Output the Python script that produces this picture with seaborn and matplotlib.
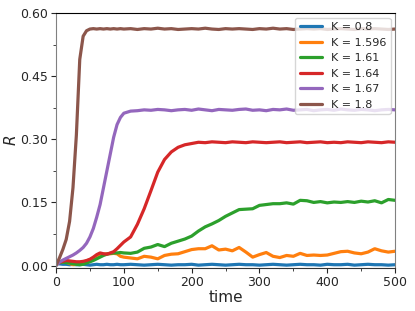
import pandas as pd
import numpy as np
import matplotlib.pyplot as plt
import seaborn as sns
from matplotlib.ticker import MultipleLocator, FormatStrFormatter

sns.set_style("ticks")

time = [0, 5, 10, 15, 20, 25, 30, 35, 40, 45, 50, 55, 60, 65, 70, 75, 80, 85, 90, 95, 100,
        110, 120, 130, 140, 150, 160, 170, 180, 190, 200, 210, 220, 230, 240, 250, 260, 270, 280, 290, 300,
        310, 320, 330, 340, 350, 360, 370, 380, 390, 400, 410, 420, 430, 440, 450, 460, 470, 480, 490, 500]

r_08 = [0.005, 0.004, 0.003, 0.003, 0.002, 0.003, 0.002, 0.002, 0.003, 0.002, 0.001, 0.002, 0.003, 0.002, 0.002, 0.003, 0.002, 0.002, 0.003, 0.002, 0.002,
        0.003, 0.002, 0.001, 0.002, 0.003, 0.002, 0.001, 0.002, 0.002, 0.003, 0.001, 0.002, 0.003, 0.002, 0.001, 0.002, 0.003, 0.002, 0.002, 0.001,
        0.002, 0.003, 0.002, 0.001, 0.002, 0.003, 0.002, 0.002, 0.001, 0.003, 0.002, 0.002, 0.003, 0.001, 0.002, 0.003, 0.002, 0.002, 0.001, 0.002]

r_1596 = [0.005, 0.007, 0.009, 0.008, 0.005, 0.002, 0.003, 0.005, 0.008, 0.011, 0.014, 0.017, 0.020, 0.024, 0.027, 0.028, 0.028, 0.029, 0.028, 0.022, 0.020,
          0.018, 0.016, 0.022, 0.020, 0.016, 0.024, 0.027, 0.028, 0.033, 0.038, 0.040, 0.040, 0.047, 0.037, 0.039, 0.035, 0.043, 0.032, 0.020, 0.026,
          0.031, 0.022, 0.019, 0.024, 0.022, 0.029, 0.024, 0.025, 0.024, 0.025, 0.029, 0.033, 0.034, 0.030, 0.028, 0.032, 0.040, 0.035, 0.032, 0.034]

r_161 = [0.005, 0.007, 0.008, 0.007, 0.006, 0.004, 0.003, 0.002, 0.003, 0.006, 0.009, 0.012, 0.016, 0.020, 0.024, 0.027, 0.029, 0.030, 0.030, 0.031, 0.030,
         0.029, 0.032, 0.041, 0.044, 0.050, 0.045, 0.053, 0.058, 0.063, 0.070, 0.082, 0.092, 0.099, 0.107, 0.117, 0.125, 0.133, 0.134, 0.135, 0.143,
         0.145, 0.147, 0.147, 0.149, 0.146, 0.155, 0.154, 0.150, 0.152, 0.149, 0.151, 0.150, 0.152, 0.150, 0.153, 0.151, 0.154, 0.149, 0.157, 0.155]

r_164 = [0.005, 0.008, 0.010, 0.012, 0.011, 0.010, 0.009, 0.009, 0.010, 0.012, 0.015, 0.020, 0.026, 0.030, 0.028, 0.027, 0.030, 0.033, 0.040, 0.048, 0.056,
         0.068, 0.098, 0.135, 0.178, 0.222, 0.252, 0.270, 0.281, 0.287, 0.290, 0.293, 0.292, 0.294, 0.293, 0.292, 0.294, 0.293, 0.292, 0.294, 0.293,
         0.292, 0.293, 0.294, 0.292, 0.293, 0.294, 0.292, 0.293, 0.294, 0.292, 0.293, 0.292, 0.294, 0.293, 0.292, 0.294, 0.293, 0.292, 0.294, 0.293]

r_167 = [0.0, 0.008, 0.013, 0.017, 0.021, 0.025, 0.030, 0.036, 0.043, 0.053, 0.068, 0.088, 0.115, 0.145, 0.185, 0.225, 0.265, 0.305, 0.335, 0.352, 0.362,
         0.367, 0.368, 0.370, 0.369, 0.371, 0.370, 0.368, 0.370, 0.371, 0.369, 0.372, 0.370, 0.368, 0.371, 0.370, 0.369, 0.371, 0.372, 0.369, 0.370,
         0.368, 0.371, 0.370, 0.372, 0.369, 0.370, 0.371, 0.368, 0.370, 0.371, 0.369, 0.372, 0.370, 0.369, 0.371, 0.370, 0.368, 0.370, 0.371, 0.370]

r_18 = [0.0, 0.018, 0.038, 0.062, 0.105, 0.185, 0.310, 0.490, 0.545, 0.558, 0.562, 0.563, 0.562, 0.563, 0.562, 0.563, 0.562, 0.563, 0.562, 0.563, 0.562,
        0.563, 0.561, 0.563, 0.562, 0.564, 0.562, 0.563, 0.561, 0.562, 0.563, 0.562, 0.564, 0.562, 0.561, 0.563, 0.562, 0.563, 0.562, 0.561, 0.563,
        0.562, 0.564, 0.562, 0.563, 0.561, 0.562, 0.563, 0.562, 0.563, 0.561, 0.562, 0.563, 0.562, 0.561, 0.563, 0.562, 0.563, 0.562, 0.561, 0.562]

labels = ["K = 0.8", "K = 1.596", "K = 1.61", "K = 1.64", "K = 1.67", "K = 1.8"]
series = [r_08, r_1596, r_161, r_164, r_167, r_18]

frames = []
for lab, vals in zip(labels, series):
    frames.append(pd.DataFrame({"time": time, "R": vals, "K": lab}))
df = pd.concat(frames, ignore_index=True)

fig = plt.figure(figsize=(4.15, 3.11), dpi=100)
ax = fig.add_axes([0.135, 0.138, 0.817, 0.82])
sns.lineplot(data=df, x="time", y="R", hue="K", palette="tab10", linewidth=2.3, ax=ax)

ax.set_xlim(0, 500)
ax.set_ylim(-0.006, 0.6)
ax.xaxis.set_major_locator(MultipleLocator(100))
ax.xaxis.set_minor_locator(MultipleLocator(50))
ax.yaxis.set_major_locator(MultipleLocator(0.15))
ax.yaxis.set_minor_locator(MultipleLocator(0.075))
ax.yaxis.set_major_formatter(FormatStrFormatter("%.2f"))
ax.tick_params(labelsize=9, pad=2)
ax.set_xlabel("time", fontsize=11, labelpad=1)
ax.set_ylabel(r"$R$", fontsize=11, labelpad=1)
ax.spines["left"].set_color("gray")
ax.spines["right"].set_color("gray")
ax.spines["top"].set_color("black")
ax.spines["bottom"].set_color("#333333")
ax.legend(loc="upper right", fontsize=8, handlelength=2.0, borderaxespad=0.4)

plt.savefig("out.png", dpi=100)
